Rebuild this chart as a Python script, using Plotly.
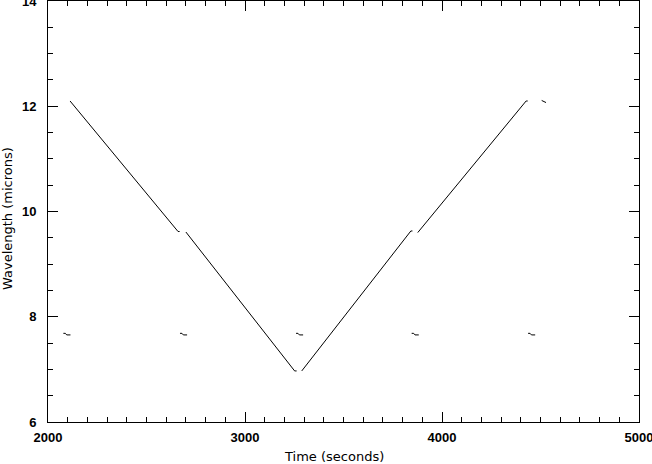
import plotly.graph_objects as go

# Scan segments (time in seconds, wavelength in microns)
seg1_time = [2112, 2660, 2668]
seg1_wave = [12.10, 9.62, 9.62]
seg2_time = [2700, 3252, 3262]
seg2_wave = [9.61, 6.97, 6.97]
seg3_time = [3288, 3842, 3850]
seg3_wave = [6.97, 9.63, 9.63]
seg4_time = [3877, 4427, 4435]
seg4_wave = [9.60, 12.10, 12.10]
seg5_time = [4506, 4528]
seg5_wave = [12.11, 12.07]

# Short reference segments near 7.66 micron
ref_starts = [2078, 2670, 3259, 3846, 4437]
ref_time_offsets = [0, 10, 17, 36]
ref_wave = [7.685, 7.685, 7.655, 7.655]

x_ticks = [2000, 3000, 4000, 5000]
y_ticks = [6, 8, 10, 12, 14]

xs, ys = [], []
for t, w in [(seg1_time, seg1_wave), (seg2_time, seg2_wave), (seg3_time, seg3_wave),
             (seg4_time, seg4_wave), (seg5_time, seg5_wave)]:
    xs += t + [None]
    ys += w + [None]
for s in ref_starts:
    xs += [s + o for o in ref_time_offsets] + [None]
    ys += ref_wave + [None]

fig = go.Figure()
fig.add_trace(go.Scatter(x=xs, y=ys, mode="lines",
                         line=dict(color="black", width=1),
                         connectgaps=False, showlegend=False, hoverinfo="skip"))

tickfont = dict(family="Liberation Sans, Arial", size=13, color="black", weight="bold")
titlefont = dict(family="DejaVu Sans", size=13, color="black")

fig.update_layout(
    width=652, height=464,
    margin=dict(l=48, r=13, t=1, b=42),
    paper_bgcolor="white", plot_bgcolor="white",
    xaxis=dict(range=[2000, 5000], tickvals=x_ticks, ticktext=[str(v) for v in x_ticks],
               ticks="inside", ticklen=10, tickwidth=1, tickcolor="black",
               minor=dict(dtick=100, tick0=2000, ticks="inside", ticklen=5,
                          tickwidth=1, tickcolor="black", showgrid=False),
               showline=True, linecolor="black", linewidth=1, mirror="allticks",
               showgrid=False, zeroline=False, tickfont=tickfont, ticklabelstandoff=3,
               ticklabeloverflow="allow", automargin=False),
    yaxis=dict(range=[6, 14], tickvals=y_ticks, ticktext=[str(v) for v in y_ticks],
               ticks="inside", ticklen=10, tickwidth=1, tickcolor="black",
               minor=dict(dtick=0.5, tick0=6, ticks="inside", ticklen=5,
                          tickwidth=1, tickcolor="black", showgrid=False),
               showline=True, linecolor="black", linewidth=1, mirror="allticks",
               showgrid=False, zeroline=False, tickfont=tickfont, ticklabelstandoff=8,
               ticklabeloverflow="allow", automargin=False),
    annotations=[
        dict(text="Time (seconds)", xref="paper", yref="paper", x=0.484, y=-0.083,
             xanchor="center", yanchor="middle", showarrow=False, font=titlefont),
        dict(text="Wavelength (microns)", xref="paper", yref="paper", x=-0.0685, y=0.4834,
             xanchor="center", yanchor="middle", showarrow=False, font=titlefont,
             textangle=-90),
    ],
)

fig.write_html("out.html", config={"displayModeBar": False},
               post_script="document.body.style.margin='0';")
